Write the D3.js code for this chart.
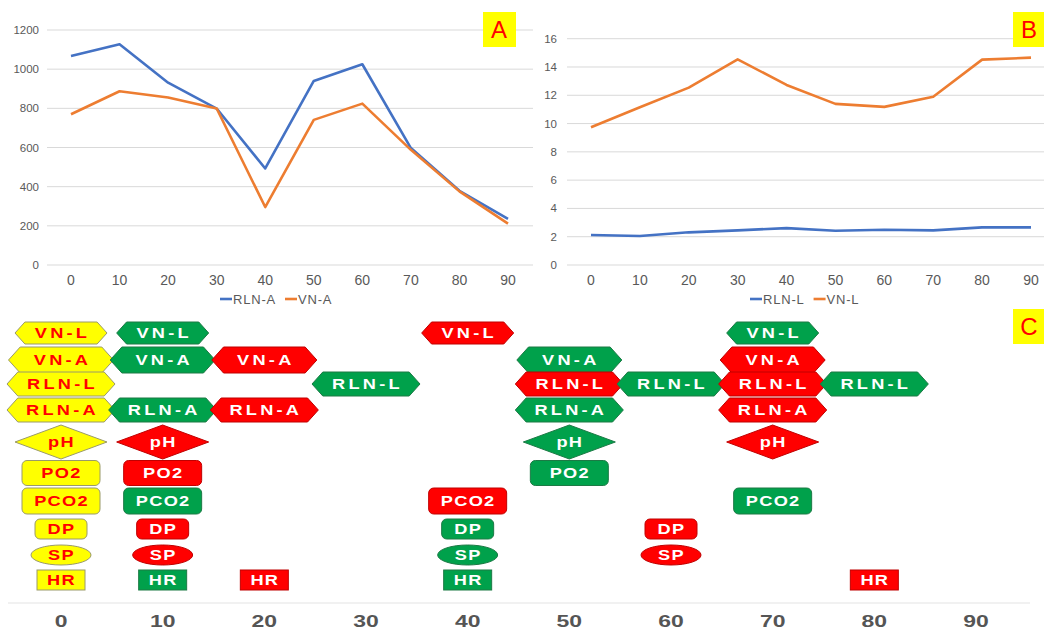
<!DOCTYPE html>
<html>
<head>
<meta charset="utf-8">
<script src="https://cdn.jsdelivr.net/npm/d3@7"></script>
<style>
  body { margin: 0; background: #fff; }
  svg { display: block; font-family: "Liberation Sans", Arial, sans-serif; }
</style>
</head>
<body>
<svg id="chart" width="1044" height="631"></svg>
<script>
// ---- data ----
const times = [0, 10, 20, 30, 40, 50, 60, 70, 80, 90];
const rlnA = [1067, 1127, 931, 799, 493, 940, 1025, 597, 379, 236];
const vnA = [770, 887, 855, 799, 296, 741, 824, 588, 376, 211];
const rlnL = [2.12, 2.05, 2.31, 2.45, 2.61, 2.42, 2.49, 2.45, 2.66, 2.66];
const vnL = [9.74, 11.15, 12.54, 14.54, 12.73, 11.39, 11.18, 11.9, 14.52, 14.66];
const ticksA = [0, 200, 400, 600, 800, 1000, 1200];
const ticksB = [0, 2, 4, 6, 8, 10, 12, 14, 16];
const paramRows = ['VN-L', 'VN-A', 'RLN-L', 'RLN-A', 'pH', 'PO2', 'PCO2', 'DP', 'SP', 'HR'];
// [parameter, time, state]  state: base / up (green) / down (red)
const changes = [
  ['VN-L', 0, 'base'], ['VN-A', 0, 'base'], ['RLN-L', 0, 'base'], ['RLN-A', 0, 'base'], ['pH', 0, 'base'],
  ['PO2', 0, 'base'], ['PCO2', 0, 'base'], ['DP', 0, 'base'], ['SP', 0, 'base'], ['HR', 0, 'base'],
  ['VN-L', 10, 'up'], ['VN-A', 10, 'up'], ['RLN-A', 10, 'up'], ['pH', 10, 'down'], ['PO2', 10, 'down'],
  ['PCO2', 10, 'up'], ['DP', 10, 'down'], ['SP', 10, 'down'], ['HR', 10, 'up'],
  ['VN-A', 20, 'down'], ['RLN-A', 20, 'down'], ['HR', 20, 'down'],
  ['RLN-L', 30, 'up'],
  ['VN-L', 40, 'down'], ['PCO2', 40, 'down'], ['DP', 40, 'up'], ['SP', 40, 'up'], ['HR', 40, 'up'],
  ['VN-A', 50, 'up'], ['RLN-L', 50, 'down'], ['RLN-A', 50, 'up'], ['pH', 50, 'up'], ['PO2', 50, 'up'],
  ['RLN-L', 60, 'up'], ['DP', 60, 'down'], ['SP', 60, 'down'],
  ['VN-L', 70, 'up'], ['VN-A', 70, 'down'], ['RLN-L', 70, 'down'], ['RLN-A', 70, 'down'], ['pH', 70, 'down'], ['PCO2', 70, 'up'],
  ['RLN-L', 80, 'up'], ['HR', 80, 'down']
];

// ---- styles / layout ----
const blue = '#4472C4', orange = '#ED7D31', grid = '#d9d9d9', tickCol = '#595959';
const stateStyle = {
  base: { fill: '#ffff00', stroke: '#9a9a6a', text: '#ff0000' },
  up:   { fill: '#00a14b', stroke: '#1c7a45', text: '#ffffff' },
  down: { fill: '#ff0000', stroke: '#c00000', text: '#ffffff' }
};
const rowLayout = {
  'VN-L':  { shape: 'hex', w: 92, h: 22, y: 333 },
  'VN-A':  { shape: 'hex', w: 105, h: 26, y: 360 },
  'RLN-L': { shape: 'hex', w: 108, h: 24, y: 384 },
  'RLN-A': { shape: 'hex', w: 108, h: 24, y: 410 },
  'pH':    { shape: 'diamond', w: 92, h: 34, y: 442 },
  'PO2':   { shape: 'round', w: 78, h: 25, y: 473 },
  'PCO2':  { shape: 'round', w: 78, h: 26, y: 501 },
  'DP':    { shape: 'round', w: 52, h: 20, y: 529 },
  'SP':    { shape: 'ellipse', w: 60, h: 20, y: 555 },
  'HR':    { shape: 'rect', w: 48, h: 20, y: 580 }
};

const svg = d3.select('#chart');

// ---- line panels ----
function linePanel(cfg) {
  const x = d3.scaleLinear().domain([0, 90]).range(cfg.xRange);
  const y = d3.scaleLinear().domain([0, cfg.yMax]).range([265, cfg.yTop]);
  const g = svg.append('g');

  g.selectAll('.grid')
    .data(cfg.ticks)
    .enter()
    .append('line')
    .attr('x1', cfg.gridX[0]).attr('x2', cfg.gridX[1])
    .attr('y1', d => y(d)).attr('y2', d => y(d))
    .attr('stroke', grid).attr('stroke-width', 1);

  g.selectAll('.ylab')
    .data(cfg.ticks)
    .enter()
    .append('text')
    .attr('x', cfg.yLabelX)
    .attr('y', d => y(d) + 4)
    .attr('text-anchor', 'end')
    .attr('font-size', 11.5)
    .attr('fill', tickCol)
    .text(d => d);

  g.selectAll('.xlab')
    .data(times)
    .enter()
    .append('text')
    .attr('x', d => x(d))
    .attr('y', 285)
    .attr('text-anchor', 'middle')
    .attr('font-size', 14)
    .attr('fill', tickCol)
    .text(d => d);

  const line = d3.line().x((d, i) => x(times[i])).y(d => y(d));
  cfg.series.forEach(s => {
    g.append('path')
      .datum(s.values)
      .attr('d', line)
      .attr('fill', 'none')
      .attr('stroke', s.color)
      .attr('stroke-width', 2.6)
      .attr('stroke-linejoin', 'round');
  });

  // legend
  let lx = cfg.legendX;
  cfg.series.forEach(s => {
    g.append('line')
      .attr('x1', lx).attr('x2', lx + 12)
      .attr('y1', 299).attr('y2', 299)
      .attr('stroke', s.color).attr('stroke-width', 2.6);
    const t = g.append('text')
      .attr('x', lx + 13).attr('y', 303.5)
      .attr('font-size', 13)
      .attr('letter-spacing', 0.8)
      .attr('fill', tickCol)
      .text(s.name);
    lx += 13 + t.node().getComputedTextLength() + 9;
  });

  // panel tag
  svg.append('rect')
    .attr('x', cfg.tag.x).attr('y', cfg.tag.y)
    .attr('width', cfg.tag.w).attr('height', 35)
    .attr('fill', '#ffff00');
  svg.append('text')
    .attr('x', cfg.tag.x + 16).attr('y', cfg.tag.y + 26)
    .attr('text-anchor', 'middle')
    .attr('font-family', '"Liberation Sans Narrow", "Liberation Sans", sans-serif')
    .attr('font-size', 24)
    .attr('fill', '#ff0000')
    .text(cfg.tag.label);
}

linePanel({
  xRange: [71, 508], yMax: 1200, yTop: 30, ticks: ticksA,
  gridX: [47, 533], yLabelX: 39, legendX: 220,
  series: [{ name: 'RLN-A', values: rlnA, color: blue }, { name: 'VN-A', values: vnA, color: orange }],
  tag: { x: 483, y: 12, w: 33, label: 'A' }
});

linePanel({
  xRange: [591, 1031], yMax: 16, yTop: 38.7, ticks: ticksB,
  gridX: [567, 1044], yLabelX: 557, legendX: 750,
  series: [{ name: 'RLN-L', values: rlnL, color: blue }, { name: 'VN-L', values: vnL, color: orange }],
  tag: { x: 1013, y: 12, w: 33, label: 'B' }
});

// ---- panel C: parameter changes ----
const xc = d3.scaleLinear().domain([0, 90]).range([61, 976]);
const gc = svg.append('g');

gc.append('line')
  .attr('x1', 8).attr('x2', 1030)
  .attr('y1', 603).attr('y2', 603)
  .attr('stroke', '#e3e3e3').attr('stroke-width', 1.2);

gc.selectAll('.clab')
  .data(times)
  .enter()
  .append('text')
  .attr('transform', d => `translate(${xc(d)},627) scale(1.35,1)`)
  .attr('text-anchor', 'middle')
  .attr('font-size', 17)
  .attr('font-weight', 'bold')
  .attr('fill', '#555555')
  .text(d => d);

function shapePath(shape, w, h) {
  const hw = w / 2, hh = h / 2;
  if (shape === 'hex') {
    const i = h * 0.45;
    return `M${-hw},0L${-hw + i},${-hh}L${hw - i},${-hh}L${hw},0L${hw - i},${hh}L${-hw + i},${hh}Z`;
  }
  if (shape === 'diamond') return `M${-hw},0L0,${-hh}L${hw},0L0,${hh}Z`;
  return null;
}

const marks = gc.selectAll('.mark')
  .data(changes.map(d => ({ row: d[0], t: d[1], state: d[2] })))
  .enter()
  .append('g')
  .attr('class', 'mark')
  .attr('transform', d => `translate(${xc(d.t)},${rowLayout[d.row].y})`);

marks.each(function (d) {
  const L = rowLayout[d.row], st = stateStyle[d.state];
  const m = d3.select(this);
  let el;
  if (L.shape === 'hex' || L.shape === 'diamond') {
    el = m.append('path').attr('d', shapePath(L.shape, L.w, L.h));
  } else if (L.shape === 'ellipse') {
    el = m.append('ellipse').attr('rx', L.w / 2).attr('ry', L.h / 2);
  } else {
    el = m.append('rect')
      .attr('x', -L.w / 2).attr('y', -L.h / 2)
      .attr('width', L.w).attr('height', L.h)
      .attr('rx', L.shape === 'round' ? 5 : 0);
  }
  el.attr('fill', st.fill).attr('stroke', st.stroke).attr('stroke-width', 1);

  const hy = d.row.includes('-');
  m.append('text')
    .attr('transform', `translate(${hy ? 1.5 : 0.5},5) scale(1.3,1)`)
    .attr('text-anchor', 'middle')
    .attr('font-size', 14)
    .attr('font-weight', 'bold')
    .attr('letter-spacing', hy ? 2.5 : 1)
    .attr('fill', st.text)
    .text(d.row);
});

// panel C tag
svg.append('rect')
  .attr('x', 1013).attr('y', 309)
  .attr('width', 33).attr('height', 35)
  .attr('fill', '#ffff00');
svg.append('text')
  .attr('x', 1029).attr('y', 335)
  .attr('text-anchor', 'middle')
  .attr('font-family', '"Liberation Sans Narrow", "Liberation Sans", sans-serif')
  .attr('font-size', 24)
  .attr('fill', '#ff0000')
  .text('C');
</script>
</body>
</html>
